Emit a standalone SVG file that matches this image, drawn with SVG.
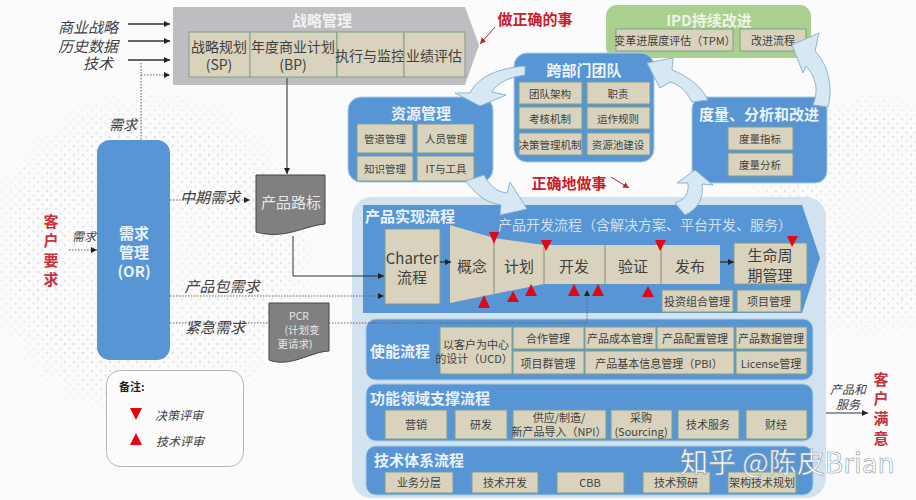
<svg xmlns="http://www.w3.org/2000/svg" width="916" height="500" viewBox="0 0 916 500">
<style>
text{font-family:"Noto Sans CJK SC","Noto Sans",sans-serif;dominant-baseline:central;text-anchor:middle;fill:#3f3f3f}
.cell{fill:#d9d3bd;stroke:#7f9f8c;stroke-width:1}
.blue{fill:#5795d5;stroke:#a9cbe6;stroke-width:1}
.h{fill:#eaf2fa;font-weight:700;font-size:15px}
.hl{text-anchor:start}
.t10{font-size:10.5px}.t11{font-size:11px}.t12{font-size:12px}.t14{font-size:14px}.t15{font-size:15px}
.i{font-style:italic}
.red{fill:#c8303a;font-weight:700;font-size:15px}
.tri{fill:#e30613}
.arc{fill:#d6e8f4;stroke:#8fb4cc;stroke-width:1}
.ln{stroke:#333;stroke-width:1.3;fill:none}
.dot{stroke:#666;stroke-width:1.1;stroke-dasharray:1.5 1.5;fill:none}
.wm{font-size:28px;fill:#fff;stroke:#8a9aa8;stroke-width:.6;text-anchor:start}
</style>
<defs>
<marker id="a" markerWidth="8" markerHeight="8" refX="6" refY="3" orient="auto" markerUnits="userSpaceOnUse"><path d="M0 0L6 3L0 6z" fill="#222"/></marker>
<marker id="ar" markerWidth="8" markerHeight="8" refX="6" refY="3" orient="auto" markerUnits="userSpaceOnUse"><path d="M0 0L6 3L0 6z" fill="#b02a2a"/></marker>
<pattern id="dots" width="9" height="9" patternUnits="userSpaceOnUse"><circle cx="2" cy="2" r="1.3" fill="#dcdfe2"/><circle cx="6.500" cy="6.500" r="1.3" fill="#e4e6e8"/></pattern>
<radialGradient id="fade"><stop offset="0" stop-color="#fff" stop-opacity=".25"/><stop offset=".7" stop-color="#fff" stop-opacity=".9"/><stop offset="1" stop-color="#fff" stop-opacity="0"/></radialGradient>
<mask id="m1" maskUnits="userSpaceOnUse" x="0" y="0" width="916" height="500"><circle cx="150" cy="255" r="175" fill="url(#fade)"/><circle cx="870" cy="215" r="130" fill="url(#fade)"/></mask>
</defs>
<rect width="916" height="500" fill="#fbfbfb"/>
<g id="background"><rect width="916" height="500" fill="url(#dots)" mask="url(#m1)"/></g>
<g id="strategy">
<path d="M173 7H465L479 45L465 85H173z" fill="#bdbdc2"/>
<text class="h" x="322" y="19" style="fill:#f2f2f2">战略管理</text>
<rect class="cell" x="189" y="32" width="61" height="45"/><text class="t14" x="219" y="46">战略规划</text><text class="t14" x="219" y="64">(SP)</text>
<rect class="cell" x="250" y="32" width="87" height="45"/><text class="t14" x="293" y="46">年度商业计划</text><text class="t14" x="293" y="64">(BP)</text>
<rect class="cell" x="337" y="32" width="67" height="45"/><text class="t14" x="370" y="55">执行与监控</text>
<rect class="cell" x="404" y="32" width="61" height="45"/><text class="t14" x="434" y="55">业绩评估</text>
</g>
<g id="ipd">
<rect x="606" y="5" width="205" height="53" rx="11" fill="#a9d08e"/>
<text class="h" x="709" y="19" style="fill:#eef5e6">IPD持续改进</text>
<rect class="cell" x="616" y="29" width="117" height="22"/><text class="t11" x="675" y="40">变革进展度评估（TPM）</text>
<rect class="cell" x="740" y="29" width="66" height="22"/><text class="t11" x="773" y="40">改进流程</text>
</g>
<g id="team">
<rect class="blue" x="514" y="53" width="140" height="109" rx="13"/>
<text class="h" x="584" y="69">跨部门团队</text>
<rect class="cell" x="519" y="82" width="63" height="22"/><text class="t10" x="550" y="93">团队架构</text>
<rect class="cell" x="587" y="82" width="63" height="22"/><text class="t10" x="618" y="93">职责</text>
<rect class="cell" x="519" y="107" width="63" height="22"/><text class="t10" x="550" y="118">考核机制</text>
<rect class="cell" x="587" y="107" width="63" height="22"/><text class="t10" x="618" y="118">运作规则</text>
<rect class="cell" x="519" y="133" width="63" height="22"/><text class="t10" x="550" y="144">决策管理机制</text>
<rect class="cell" x="587" y="133" width="63" height="22"/><text class="t10" x="618" y="144">资源池建设</text>
</g>
<g id="resource">
<rect class="blue" x="348" y="97" width="145" height="85" rx="13"/>
<text class="h" x="421" y="112">资源管理</text>
<rect class="cell" x="357" y="124" width="56" height="29"/><text class="t10" x="385" y="138">管道管理</text>
<rect class="cell" x="417" y="124" width="57" height="29"/><text class="t10" x="446" y="138">人员管理</text>
<rect class="cell" x="357" y="156" width="56" height="25"/><text class="t10" x="385" y="168">知识管理</text>
<rect class="cell" x="417" y="156" width="57" height="25"/><text class="t10" x="446" y="168">IT与工具</text>
</g>
<g id="measure">
<rect class="blue" x="692" y="97" width="135" height="86" rx="12"/>
<text class="h" x="759" y="113">度量、分析和改进</text>
<rect class="cell" x="728" y="127" width="65" height="23"/><text class="t10" x="760" y="138">度量指标</text>
<rect class="cell" x="728" y="153" width="65" height="23"/><text class="t10" x="760" y="164">度量分析</text>
</g>
<g id="realization">
<rect x="352" y="197" width="474" height="301" rx="20" fill="#d2e2ee"/>
<path d="M363 205H802L820 258L802 313H363z" fill="#5795d5"/>
<text class="h hl" x="365" y="215">产品实现流程</text>
<text class="t14" x="498" y="224" style="text-anchor:start;fill:#cfe0f0">产品开发流程（含解决方案、平台开发、服务）</text>
<rect class="cell" x="385" y="229" width="55" height="75"/><text class="t15" x="412" y="257">Charter</text><text class="t15" x="412" y="276">流程</text>
<path class="cell" d="M450 225L494 238L544 245H720V284H544L494 294L450 303z" style="stroke:none"/>
<path d="M494 238V294M544 245V284M605 244V284M661 244V284" stroke="#8a8a78" stroke-width="1"/>
<text class="t15" x="472" y="265">概念</text><text class="t15" x="519" y="265">计划</text><text class="t15" x="574" y="265">开发</text><text class="t15" x="633" y="265">验证</text><text class="t15" x="690" y="265">发布</text>
<rect class="cell" x="734" y="243" width="73" height="41"/><text class="t15" x="770" y="254">生命周</text><text class="t15" x="770" y="274">期管理</text>
<rect class="cell" x="662" y="290" width="71" height="22"/><text class="t11" x="697" y="301">投资组合管理</text>
<rect class="cell" x="737" y="290" width="64" height="22"/><text class="t11" x="769" y="301">项目管理</text>
<path class="tri" d="M489 232H499L494 244zM541 240H552L546 251zM655 240H666L660 251zM787 236H798L792 247z"/>
<path class="tri" d="M484 295L490 308H478zM513 291L519 302H507zM531 284L537 296H525zM574 284L580 296H568zM598 284L604 296H592zM648 286L654 297H642z"/>
</g>
<g id="enablement">
<rect class="blue" x="366" y="319" width="447" height="61" rx="10"/>
<text class="h hl" x="370" y="350">使能流程</text>
<rect class="cell" x="440" y="327" width="72" height="47"/><text class="t11" x="476" y="344">以客户为中心</text><text class="t11" x="474" y="358">的设计（UCD）</text>
<rect class="cell" x="513" y="327" width="71" height="22"/><text class="t11" x="548" y="338">合作管理</text>
<rect class="cell" x="585" y="327" width="71" height="22"/><text class="t11" x="620" y="338">产品成本管理</text>
<rect class="cell" x="657" y="327" width="77" height="22"/><text class="t11" x="695" y="338">产品配置管理</text>
<rect class="cell" x="736" y="327" width="71" height="22"/><text class="t11" x="771" y="338">产品数据管理</text>
<rect class="cell" x="513" y="351" width="71" height="23"/><text class="t11" x="548" y="363">项目群管理</text>
<rect class="cell" x="585" y="351" width="149" height="23"/><text class="t11" x="659" y="363">产品基本信息管理（PBI）</text>
<rect class="cell" x="736" y="351" width="71" height="23"/><text class="t11" x="771" y="363">License管理</text>
</g>
<g id="functional">
<rect class="blue" x="366" y="384" width="447" height="57" rx="10"/>
<text class="h hl" x="370" y="397">功能领域支撑流程</text>
<rect class="cell" x="385" y="410" width="62" height="29"/><text class="t11" x="416" y="424">营销</text>
<rect class="cell" x="455" y="410" width="52" height="29"/><text class="t11" x="481" y="424">研发</text>
<rect class="cell" x="513" y="410" width="93" height="29"/><text class="t11" x="559" y="417">供应/制造/</text><text class="t11" x="559" y="431">新产品导入（NPI）</text>
<rect class="cell" x="611" y="410" width="61" height="29"/><text class="t11" x="641" y="417">采购</text><text class="t11" x="641" y="431">(Sourcing)</text>
<rect class="cell" x="678" y="410" width="61" height="29"/><text class="t11" x="708" y="424">技术服务</text>
<rect class="cell" x="746" y="410" width="61" height="29"/><text class="t11" x="776" y="424">财经</text>
</g>
<g id="technology">
<rect class="blue" x="366" y="446" width="447" height="49" rx="10"/>
<text class="h hl" x="374" y="459">技术体系流程</text>
<rect class="cell" x="385" y="472" width="68" height="21"/><text class="t11" x="419" y="482">业务分层</text>
<rect class="cell" x="472" y="472" width="66" height="21"/><text class="t11" x="505" y="482">技术开发</text>
<rect class="cell" x="557" y="472" width="67" height="21"/><text class="t11" x="590" y="482">CBB</text>
<rect class="cell" x="643" y="472" width="67" height="21"/><text class="t11" x="676" y="482">技术预研</text>
<rect class="cell" x="728" y="472" width="68" height="21"/><text class="t11" x="762" y="482">架构技术规划</text>
</g>
<g id="or">
<rect x="97" y="140" width="73" height="220" rx="13" fill="#5795d5"/>
<text class="h" x="134" y="232">需求</text><text class="h" x="134" y="251">管理</text><text class="h" x="134" y="270">(OR)</text>
</g>
<g id="roadmap">
<path d="M256 175H325V224C303 226 285 240 256 232z" fill="#808080" stroke="#444"/>
<text class="t15" x="291" y="201" style="fill:#e8e8e8">产品路标</text>
</g>
<g id="pcr">
<path d="M269 303H329V351C310 352 290 368 269 360z" fill="#808080" stroke="#444"/>
<text class="t10" x="299" y="315" style="fill:#e8e8e8">PCR</text><text class="t10" x="302" y="329" style="fill:#e8e8e8">(计划变</text><text class="t10" x="295" y="343" style="fill:#e8e8e8">更请求)</text>
</g>
<g id="legend">
<rect x="106.500" y="370.500" width="137" height="96" rx="14" fill="#fcfcfc" stroke="#b5b5b5"/>
<text class="t11" x="119" y="386" style="text-anchor:start;font-weight:700;fill:#222">备注:</text>
<path class="tri" d="M130 408H142L136 420zM136 433L142 445H130z"/>
<text class="t12 i" x="155" y="414" style="text-anchor:start">决策评审</text>
<text class="t12 i" x="156" y="440" style="text-anchor:start">技术评审</text>
</g>
<g id="connectors">
<path class="ln" d="M128 24H170" marker-end="url(#a)"/>
<path class="ln" d="M128 41H170" marker-end="url(#a)"/>
<path class="ln" d="M128 60H170" marker-end="url(#a)"/>
<path class="dot" d="M141 75H170" marker-end="url(#a)"/>
<path class="dot" d="M141 63V140"/>
<path class="ln" d="M287 78V174" marker-end="url(#a)" style="stroke:#555"/>
<path class="dot" d="M170 200H250" marker-end="url(#a)"/>
<path class="ln" d="M293 236V276H384" marker-end="url(#a)" style="stroke-width:1"/>
<path class="dot" d="M170 296H384" marker-end="url(#a)"/>
<path class="dot" d="M170 323H269M329 323H587V290" marker-end="url(#a)"/>
<path class="dot" d="M69 250H97" marker-end="url(#a)"/>
<path class="ln" d="M826 413H868" marker-end="url(#a)" style="stroke-width:1"/>
<path class="ln" d="M440 262H451" marker-end="url(#a)" style="stroke:#234"/>
<path class="ln" d="M720 262H734" marker-end="url(#a)" style="stroke:#234"/>
<path class="ln" d="M495 27L480 44" marker-end="url(#ar)" style="stroke:#b02a2a;stroke-width:1"/>
<path class="ln" d="M611 177L629 188" marker-end="url(#ar)" style="stroke:#b02a2a;stroke-width:1"/>
<path class="arc" d="M525 66C500 68 478 76 470 93L455 93L480 106L506 95L492 92C498 82 510 77 525 75z"/>
<path class="arc" d="M466 181C476 196 488 203 501 205L500 215L527 209L510 182L507 193C497 192 490 186 484 175z"/>
<path class="arc" d="M675 203C686 199 689 193 688 183L677 183L695 170L713 185L702 184C704 198 698 209 685 215z"/>
<path class="arc" d="M813 105C819 90 816 77 806 66L803 73L792 45L819 33L815 51C829 66 833 88 828 107z"/>
<path class="arc" d="M692 102C686 90 678 84 670 82L660 88L647 63L673 58L672 70C688 76 701 86 708 100z"/>
</g>
<g id="labels">
<text class="t15 i" x="118" y="26" style="text-anchor:end">商业战略</text>
<text class="t15 i" x="118" y="45" style="text-anchor:end">历史数据</text>
<text class="t15 i" x="113" y="62" style="text-anchor:end">技术</text>
<text class="t14 i" x="123" y="124">需求</text>
<text class="t15 i" x="210" y="196">中期需求</text>
<text class="t15 i" x="222" y="285">产品包需求</text>
<text class="t15 i" x="215" y="326">紧急需求</text>
<text class="t12 i" x="84" y="235">需求</text>
<text class="t12 i" x="848" y="388">产品和</text>
<text class="t12 i" x="848" y="403">服务</text>
<text class="red" x="51" y="220">客</text><text class="red" x="51" y="239">户</text><text class="red" x="51" y="259">要</text><text class="red" x="51" y="278">求</text>
<text class="red" x="881" y="378">客</text><text class="red" x="881" y="397">户</text><text class="red" x="881" y="417">满</text><text class="red" x="881" y="437">意</text>
<text class="red" x="535" y="18" style="fill:#c8202a">做正确的事</text>
<text class="red" x="569" y="182" style="fill:#c8202a">正确地做事</text>
<text class="wm" x="680" y="461">知乎 @陈皮Brian</text>
</g>
</svg>
